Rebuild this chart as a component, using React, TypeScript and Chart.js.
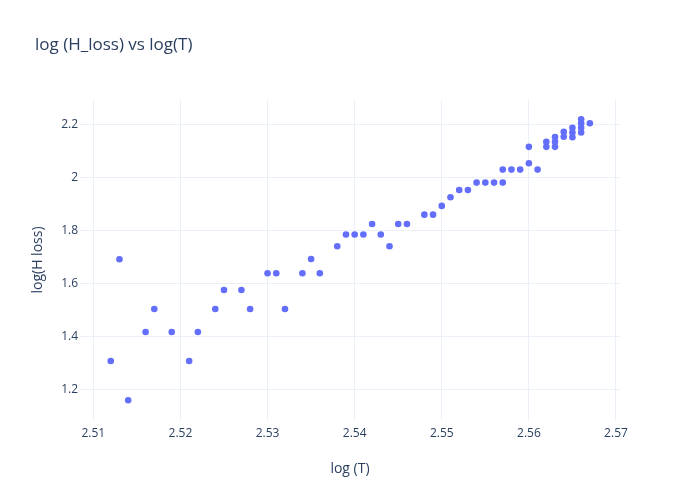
import React, { useEffect, useRef } from "react";
import { Chart, registerables } from "chart.js";

Chart.register(...registerables);

const logT: number[] = [
  2.512, 2.513, 2.514, 2.516, 2.517, 2.519, 2.521, 2.522, 2.524, 2.525,
  2.527, 2.528, 2.53, 2.531, 2.532, 2.534, 2.535, 2.536, 2.538, 2.539,
  2.54, 2.541, 2.542, 2.543, 2.544, 2.545, 2.546, 2.548, 2.549, 2.55,
  2.551, 2.552, 2.553, 2.554, 2.555, 2.556, 2.557, 2.557, 2.558, 2.559,
  2.56, 2.56, 2.561, 2.562, 2.562, 2.563, 2.563, 2.563, 2.564, 2.564,
  2.565, 2.565, 2.565, 2.566, 2.566, 2.566, 2.566, 2.567,
];

const logHLoss: number[] = [
  1.307, 1.691, 1.159, 1.416, 1.503, 1.416, 1.307, 1.416, 1.503, 1.575,
  1.575, 1.503, 1.638, 1.638, 1.503, 1.638, 1.692, 1.638, 1.74, 1.784,
  1.784, 1.784, 1.824, 1.784, 1.74, 1.824, 1.824, 1.859, 1.859, 1.892,
  1.925, 1.952, 1.952, 1.98, 1.98, 1.98, 1.98, 2.029, 2.029, 2.029,
  2.053, 2.115, 2.029, 2.115, 2.134, 2.115, 2.134, 2.152, 2.153, 2.172,
  2.151, 2.169, 2.187, 2.169, 2.187, 2.204, 2.219, 2.204,
];

const chartTitle = "log (H_loss) vs log(T)";
const xTitle = "log (T)";
const yTitle = "log(H loss)";

const FONT = '"Open Sans", verdana, arial, sans-serif';
const TEXT = "#2a3f5f";
const GRID = "#ebf0f8";

const titlePlugin = {
  id: "plotlyTitle",
  afterDraw(chart: any) {
    const ctx = chart.ctx;
    ctx.save();
    ctx.font = `17px ${FONT}`;
    ctx.fillStyle = TEXT;
    ctx.textAlign = "left";
    ctx.textBaseline = "middle";
    ctx.fillText(chartTitle, 35, 45);
    ctx.restore();
  },
};

const bgPlugin = {
  id: "bg",
  beforeDraw(chart: any) {
    const ctx = chart.ctx;
    ctx.save();
    ctx.fillStyle = "#ffffff";
    ctx.fillRect(0, 0, chart.width, chart.height);
    ctx.restore();
  },
};

export default function App() {
  const ref = useRef<HTMLCanvasElement | null>(null);

  useEffect(() => {
    document.body.style.margin = "0";
    if (!ref.current) return;
    const data = logT.map((x, i) => ({ x, y: logHLoss[i] }));
    const chart = new Chart(ref.current, {
      type: "scatter",
      data: {
        datasets: [
          {
            data,
            backgroundColor: "#636efa",
            borderColor: "#636efa",
            borderWidth: 0,
            pointRadius: 3.3,
            pointHoverRadius: 3.3,
          },
        ],
      },
      options: {
        animation: false,
        responsive: false,
        maintainAspectRatio: false,
        layout: { padding: { left: 0, right: 80, top: 100, bottom: 0 } },
        plugins: {
          legend: { display: false },
          tooltip: { enabled: false },
          title: { display: false },
        },
        scales: {
          x: {
            type: "linear",
            min: 2.50847,
            max: 2.57046,
            afterFit: (s: any) => {
              s.height = 80;
            },
            ticks: {
              stepSize: 0.01,
              includeBounds: false,
              padding: 6,
              color: TEXT,
              font: { family: FONT, size: 12 },
              callback: (v: any) => String(+Number(v).toFixed(3)),
            },
            grid: { color: GRID, lineWidth: 1, drawTicks: false },
            border: { display: false },
            title: {
              display: true,
              text: xTitle,
              color: TEXT,
              font: { family: FONT, size: 14 },
              padding: { top: 0, bottom: 23 },
            },
          },
          y: {
            type: "linear",
            min: 1.0842,
            max: 2.2917,
            afterFit: (s: any) => {
              s.width = 80;
            },
            ticks: {
              stepSize: 0.2,
              includeBounds: false,
              padding: 2,
              color: TEXT,
              font: { family: FONT, size: 12 },
              callback: (v: any) => String(+Number(v).toFixed(2)),
            },
            grid: { color: GRID, lineWidth: 1, drawTicks: false },
            border: { display: false },
            title: {
              display: true,
              text: yTitle,
              color: TEXT,
              font: { family: FONT, size: 14 },
              padding: { top: 29.6, bottom: 0 },
            },
          },
        },
      },
      plugins: [bgPlugin, titlePlugin],
    });
    return () => chart.destroy();
  }, []);

  return (
    <div style={{ width: 700, height: 500 }}>
      <canvas ref={ref} width={700} height={500} style={{ display: "block" }} />
    </div>
  );
}
